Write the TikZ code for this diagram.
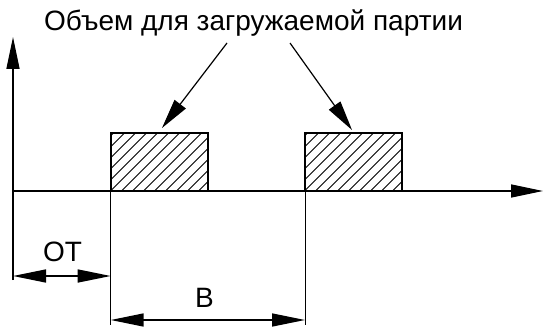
\documentclass[tikz,border=0pt]{standalone}
\usepackage{fontspec}
\setmainfont{Liberation Sans}
\usetikzlibrary{arrows.meta}

\tikzset{
  axisline/.style={line width=1.5pt, -{Triangle[length=32pt,width=13pt]}},
  extline/.style={line width=1pt},
  dimline/.style={line width=1.5pt, {Triangle[length=33pt,width=13pt]}-{Triangle[length=33pt,width=13pt]}},
  callout/.style={line width=1.2pt, -{Triangle[length=30pt,width=14pt]}},
  hatchbox/.style={draw, line width=1.8pt, minimum width=97pt, minimum height=58pt, inner sep=0pt,
    path picture={
      \foreach \k in {-66,-55,...,110}
        \draw[line width=0.9pt] ([xshift=\k pt]path picture bounding box.south west) -- ++(70pt,70pt);
    }},
  lbl/.style={font=\fontsize{28}{32}\selectfont, inner sep=0pt}
}

\begin{document}
\begin{tikzpicture}[x=1pt,y=-1pt]
        \useasboundingbox (0,0) rectangle (543,331);

        % punti degli assi
        \coordinate (O) at (13,191);
        \coordinate (Ytop) at (13,37);
        \coordinate (Ybot) at (13,280);
        \coordinate (Xend) at (543,191);

        % assi
        \draw[axisline] (Ybot) -- (Ytop);
        \draw[axisline] (O) -- (Xend);

        % partite caricate
        \node[hatchbox] (box1) at (159.4,161.7) {};
        \node[hatchbox] (box2) at (353.3,161.7) {};

        % linee di riferimento
        \coordinate (P1) at (110.7,191);
        \coordinate (P1b) at (110.7,325);
        \coordinate (P2) at (305,191);
        \coordinate (P2b) at (305,325);
        \draw[extline] (P1) -- (P1b);
        \draw[extline] (P2) -- (P2b);

        % quote
        \coordinate (OTa) at (13,276);
        \coordinate (OTb) at (110.7,276);
        \coordinate (Ba) at (110.7,320);
        \coordinate (Bb) at (305,320);
        \draw[dimline] (OTa) -- (OTb);
        \draw[dimline] (Ba) -- (Bb);
        \node[lbl] (ot) at (62.5,252) {ОТ};
        \node[lbl] (b) at (204.5,298) {В};

        % titolo e frecce
        \node[lbl] (title) at (253.5,23) {Объем для загружаемой партии};
        \coordinate (T1) at (227,43);
        \coordinate (T2) at (290,43);
        \coordinate (H1) at (162,128);
        \coordinate (H2) at (352,130);
        \draw[callout] (T1) -- (H1);
        \draw[callout] (T2) -- (H2);
\end{tikzpicture}
\end{document}
